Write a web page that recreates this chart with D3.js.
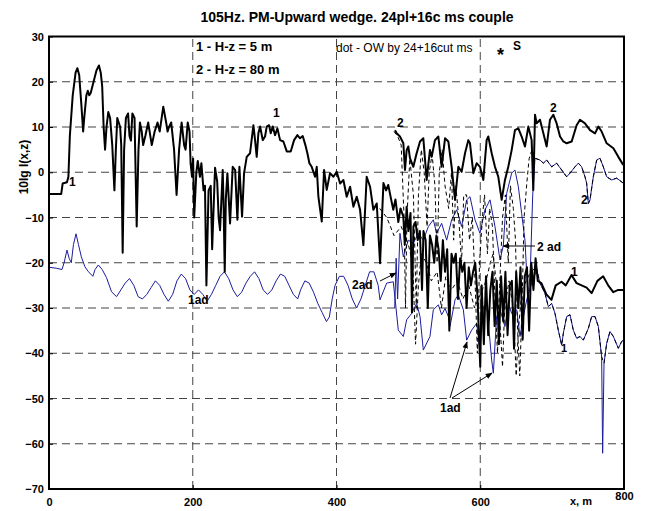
<!DOCTYPE html>
<html><head><meta charset="utf-8">
<script src="https://cdn.jsdelivr.net/npm/d3@7"></script>
<style>
body{margin:0;background:#fff;}
text{font-family:"Liberation Sans",Arial,sans-serif;}
</style></head>
<body><svg id="c" width="645" height="511"></svg>
<script>
const xTicks=[0,200,400,600,800];
const yTicks=[-70,-60,-50,-40,-30,-20,-10,0,10,20,30];

// curve 1 : H-z = 5 m (thick black)
const curve1=[[0,-4.8],[17,-4.8],[19,-2.5],[25,-2.2],[27,-1],[29,8],[33,17],[37,22],[39.5,23],[42,21.5],[45,15],[47.5,9],[49,12],[52,17],[54,18],[56,17],[58,17.5],[62,20],[66,22.5],[69.5,23.6],[72,22],[74,19],[76,10],[78,5],[80,10],[82.5,13.3],[85,12],[88,6],[91,-4],[93,5],[95,12],[97,11],[99,10],[100.5,6],[102.5,-17.8],[104.5,5],[107,12],[110,13],[112,8],[114,7],[116,13],[119,12],[122,-12],[124.5,5],[126.5,11],[129,9],[131,6],[134,8],[138,11],[141,8],[143,6],[147,9],[151,11],[154,9],[159,14.5],[163,11],[165,9],[167,10],[170,11],[174,5],[177.5,-5],[181,5],[184.5,11],[188,6],[190,5],[193,11],[195.5,9],[197,2],[199,-1],[200.5,3],[202,-10],[205,0],[207,2.5],[210,-1],[212,2],[215,-4],[217,-3],[219,-25],[222,-4],[225,-3],[227,-17],[231,1],[234,-2],[236,-10],[238,-12.8],[241.7,0.5],[243,-8],[244.5,-22],[246,-6],[248.2,-0.2],[251.9,-11.3],[255.6,1.2],[259,0.5],[262.1,-10.5],[264.9,1.2],[268.6,-9.8],[271.4,-0.2],[275.1,3.4],[279.7,4.2],[284.4,10.4],[286.7,7.1],[289,3.4],[291.3,8.6],[293.7,10.1],[297.4,7.1],[300.6,7.9],[302.9,10.1],[306.2,10.4],[308.5,8.6],[311.3,10.1],[314.5,8.2],[317.8,9.7],[321.5,7.1],[326.1,6.8],[330.8,4.6],[336.3,4.6],[341,7.1],[345.6,8.2],[349.3,7.5],[353,8],[356.7,6],[359.5,4.2],[362.3,2],[365.5,1.2],[370.2,-1],[372.5,1.2],[374.8,-5.4],[379.5,-10.9],[382.7,0.5],[386.4,-3.9],[391,-0.2],[395.7,-1],[400.3,0.1],[405,-2.5],[409.6,-1.7],[414.2,-5.4],[418.9,-3.2],[423.5,-7.6],[428.2,-5.4],[432.8,-8.3],[437.4,-16.1],[442,-1],[446.7,-3.2],[451.3,-8.3],[456,-6.9],[460.6,-20.1],[465.3,-2.4],[469,-4],[472,-2.8],[476,-6],[479,-8.3],[482,-6],[486,-11],[489,-8],[493,-9.8],[495,-16],[497.6,-7.6],[500,-13],[503,-9],[505,-31],[507,-12],[510,-11],[513,-15],[516,-13],[519,-26],[521,-13],[524,-15],[527,-30],[530,-14],[533,-16],[536,-20],[539,-14],[542,-17],[545,-24],[548,-15],[551,-22],[554,-17],[557,-35],[560,-18],[563,-20],[566,-18],[569,-28],[572,-19],[575,-22],[578,-20],[581,-30],[584,-21],[587,-25],[590,-22],[593,-20],[596,-27],[598,-35],[600,-43],[602,-25],[605,-38],[608,-23],[611,-36],[614,-26],[617,-22],[620,-34],[623,-24],[626,-38],[629,-23],[632,-33],[635,-22],[638,-36],[641,-25],[644,-24],[647,-39],[650,-22],[653,-30],[656,-21],[659,-37],[662,-23],[665,-21],[668,-35],[671,-20],[674,-26],[677,-19],[680,-24],[685,-24.5],[692,-27],[699,-28.2],[705,-25],[713,-24.2],[719,-25],[727,-22.7],[734,-24.5],[741,-25],[748,-25.5],[755,-26.7],[763,-24],[771,-23],[778,-25],[785,-26.5],[792,-26],[800,-26]];

// curve 2 : H-z = 80 m (thick black)
const curve2=[[481.4,9.3],[483.7,8.6],[488.3,7.9],[493,6.4],[495.3,0.5],[497.6,4.9],[499.9,5.7],[502.2,3.1],[506.9,1.2],[511.5,4.2],[516.2,6.8],[520.8,7.5],[525.4,-1.7],[530,4.9],[532.4,3.4],[537,7.1],[541.7,7.9],[546.3,1.2],[551,7.5],[555.6,6.8],[560.2,1.2],[564.9,-6.1],[569.5,1.2],[574.1,0.1],[578.8,4.2],[583.4,7.1],[585.7,6.4],[590.4,-0.2],[595,2],[599.6,1.2],[604.3,-1.7],[608.9,7.1],[611.2,7.9],[615.9,4.2],[620.5,1.2],[625.1,-1],[629.8,-6.1],[634.4,-1.7],[639,1.2],[643.7,4.9],[648.3,9.3],[653,9.7],[657.6,7.9],[662.2,5.7],[666.9,10.1],[671.5,7.1],[673.8,-3.9],[676.2,12.7],[678.5,10.8],[683.1,11.6],[687.8,8.6],[692.4,5.7],[697,11.6],[701.7,12.7],[706.3,10.8],[711,7.9],[715.6,6.8],[720.2,6.4],[727.2,6.8],[734.1,10.4],[738.8,11.6],[745.7,10.8],[752.7,9.3],[759.7,8.6],[764.3,10.1],[768.9,9],[775.9,6.4],[785.2,5.3],[792.1,3.4],[799,1.6]];

// OW curves (thin dashed black)
const ow1=[[460,-8],[470,-10],[480,-14],[490,-12],[500,-16],[506,-20],[510,-38],[514,-25],[518,-18],[525,-20],[532,-24],[540,-22],[546,-30],[552,-23],[560,-26],[568,-24],[576,-28],[584,-25],[592,-30],[600,-27],[608,-24],[614,-20],[618,-18],[622,-24],[628,-35],[631,-43],[634,-30],[640,-24],[646,-30],[650,-45],[653,-35],[658,-26],[664,-24],[670,-22],[678,-21],[683.1,-24.5],[690.1,-26.8],[694.7,-29.7],[699.4,-29],[704,-31.2],[708.6,-34.9],[713.3,-38.2],[715.6,-35.6],[720.2,-31.9],[724.9,-31.5],[729.5,-34.9],[734.1,-36.7],[738.8,-36.3],[743.4,-37.1],[750.4,-34.5],[755,-31.9],[759.7,-31.9],[764.3,-34.1],[768.9,-40.8],[772.2,-42.2],[775.9,-37.8],[780.5,-35.2],[785.2,-36.3],[792.1,-38.9],[796.8,-37.4],[800,-37]];
const ow2=[[480,9],[485,8],[490,6],[494,-10],[496,-30],[498,-10],[502,3],[507,-5],[511,-30],[514,-5],[518,5],[522,0],[526,-12],[529,0],[533,4],[537,-3],[540,-20],[543,0],[547,5],[551,-3],[556,-8],[560,0],[563,-15],[566,-3],[570,-10],[574,-20],[577,-5],[581,-5],[585,-15],[589,-10],[593,-25],[596,-40],[599,-20],[603,-10],[606,-5],[610,-18],[613,-8],[617,-12],[621,-30],[624,-40],[627,-25],[631,-10],[635,-5],[639,-20],[642,-3],[646,-8],[649,-15],[652,-35],[655,-45],[658,-30],[661,-10],[665,-2],[668,3],[672,5],[676.2,3.1],[683.1,2.7],[687.8,2],[692.4,2.7],[699.4,1.2],[706.3,2],[713.3,0.5],[720.2,-1],[724.9,-0.2],[731.8,1.2],[736.5,2],[741.1,1.2],[745.7,-1],[748,-2.4],[750.4,-6.9],[752.7,-6.1],[757.3,-1],[762,2.7],[766.6,3.1],[771.2,1.2],[775.9,-1],[782.8,-1.7],[789.8,-1.3],[799,-2.4]];

// adiabatic curves (thin blue)
const ad1=[[0,-21],[10,-21.2],[18,-21.5],[21,-20],[25,-17.2],[28,-19],[31,-20],[34,-16],[37.6,-13.6],[41,-16],[45,-18.7],[50,-20.9],[55,-22],[61,-23],[64,-21.5],[68.6,-20.5],[74,-21.5],[80,-23.3],[87,-26.4],[94,-27.5],[100,-26],[106,-24.5],[112,-23.5],[118,-25],[124,-27.5],[130,-28],[136,-27],[142,-25.5],[148,-24],[154,-25],[160,-27],[166,-28.5],[172,-27],[178,-24],[184,-22.5],[190,-23.5],[196,-26],[202,-27],[208,-26],[214,-27],[220,-28.5],[226,-27],[232,-25],[238,-23],[244,-22],[250,-23.5],[256,-26],[262,-27.5],[268,-26.5],[274,-24.5],[280,-23],[286,-22],[292,-23.5],[298,-26],[304,-27],[310,-26],[316,-24],[322,-22.5],[328,-23],[334,-25],[340,-27],[346,-28],[350,-26],[356,-24],[362,-24.5],[368,-26.5],[374,-29],[380,-31],[386,-33],[390,-32],[394,-28],[398,-25],[404,-23],[410,-23],[416,-25],[422,-28],[428,-30],[434,-28],[440,-25],[446,-22],[452,-22],[458,-25],[460.5,-28.2],[469.8,-24.5],[479,-24.2],[486,-34.9],[493,-36.3],[497.6,-32.6],[504.6,-31.2],[511.5,-29],[516.2,-31.9],[520.8,-39.3],[530,-36.3],[534.7,-30.4],[541.7,-29.3],[546.3,-31.5],[551,-30.1],[555.6,-31.9],[557.9,-34.1],[564.9,-28.2],[569.5,-27.1],[576.5,-30.4],[581.1,-37.1],[588,-34.9],[595,-33.4],[599.6,-39.3],[604.3,-29.7],[608.9,-29],[615.9,-41.5],[618.2,-44.4],[622.8,-31.9],[627.5,-30.4],[634.4,-34.1],[639,-29],[643.7,-31.2],[650.7,-30.4],[655.3,-36.3],[660,-31.9],[664.6,-28.2],[671.5,-24.5],[678.5,-21.6],[683.1,-24.5],[690.1,-26.8],[694.7,-29.7],[699.4,-29],[704,-31.2],[708.6,-34.9],[713.3,-38.2],[715.6,-35.6],[720.2,-31.9],[724.9,-31.5],[729.5,-34.9],[734.1,-36.7],[738.8,-36.3],[743.4,-37.1],[750.4,-34.5],[755,-31.9],[759.7,-31.9],[764.3,-34.1],[768.9,-40.8],[770.3,-62.1],[772.2,-42.2],[775.9,-37.8],[780.5,-35.2],[785.2,-36.3],[792.1,-38.9],[796.8,-37.4],[800,-37]];
const ad2=[[481,-30],[483,-19],[485,-28],[488.3,-13.5],[493,-18.7],[499.9,-15],[506.9,-15.7],[513.8,-13.5],[520.8,-15],[527.8,-12],[534.7,-10.5],[539.3,-13.5],[546.3,-11.3],[553.3,-15],[560.2,-10.5],[567.2,-8.3],[574.1,-12],[581.1,-6.1],[585.7,-5.4],[592.7,-10.5],[599.6,-13.5],[606.6,-8.3],[613.6,-6.1],[620.5,-12],[627.5,-19.4],[632.1,-16.2],[636.7,-4.7],[643.7,-0.2],[648.3,0.5],[653,-3.2],[657.6,-9.1],[662.2,-15],[664.6,-22.3],[667,-28],[670,-20],[673,-5],[676.2,3.1],[683.1,2.7],[687.8,2],[692.4,2.7],[699.4,1.2],[706.3,2],[713.3,0.5],[720.2,-1],[724.9,-0.2],[731.8,1.2],[736.5,2],[741.1,1.2],[745.7,-1],[748,-2.4],[750.4,-6.9],[752.7,-6.1],[757.3,-1],[762,2.7],[766.6,3.1],[771.2,1.2],[775.9,-1],[782.8,-1.7],[789.8,-1.3],[799,-2.4]];

const svg=d3.select("#c");
const x=d3.scaleLinear().domain([0,800]).range([49,624]);
const y=d3.scaleLinear().domain([-70,30]).range([489,36.5]);

// grid
const g=svg.append("g");
g.selectAll("line.h").data(yTicks.filter(v=>v>-70&&v<30)).join("line")
 .attr("x1",x(0)).attr("x2",x(800)).attr("y1",d=>y(d)).attr("y2",d=>y(d))
 .attr("stroke","#444").attr("stroke-width",1).attr("stroke-dasharray","8,5");
g.selectAll("line.v").data(xTicks.filter(v=>v>0&&v<800)).join("line")
 .attr("y1",y(-70)).attr("y2",y(30)).attr("x1",d=>x(d)).attr("x2",d=>x(d))
 .attr("stroke","#444").attr("stroke-width",1).attr("stroke-dasharray","8,5");

const line=d3.line().x(d=>x(d[0])).y(d=>y(d[1]));
svg.append("defs").append("clipPath").attr("id","cp").append("rect")
 .attr("x",x(0)).attr("y",y(30)).attr("width",x(800)-x(0)).attr("height",y(-70)-y(30));
const pg=svg.append("g").attr("clip-path","url(#cp)");
pg.append("path").attr("d",line(ad1)).attr("fill","none").attr("stroke","#1c1c9c").attr("stroke-width",1);
pg.append("path").attr("d",line(ad2)).attr("fill","none").attr("stroke","#1c1c9c").attr("stroke-width",1);
pg.append("path").attr("d",line(ow1)).attr("fill","none").attr("stroke","#000").attr("stroke-width",1).attr("stroke-dasharray","4,3");
pg.append("path").attr("d",line(ow2)).attr("fill","none").attr("stroke","#000").attr("stroke-width",1).attr("stroke-dasharray","4,3");
pg.append("path").attr("d",line(curve1)).attr("fill","none").attr("stroke","#000").attr("stroke-width",2).attr("stroke-linejoin","round");
pg.append("path").attr("d",line(curve2)).attr("fill","none").attr("stroke","#000").attr("stroke-width",2).attr("stroke-linejoin","round");

// axes
const ax=svg.append("g").attr("transform",`translate(0,${y(-70)})`)
 .call(d3.axisBottom(x).tickValues(xTicks).tickSize(-4).tickPadding(9).tickFormat(d3.format("d")));
const ay=svg.append("g").attr("transform",`translate(${x(0)},0)`)
 .call(d3.axisLeft(y).tickValues(yTicks).tickSize(-4).tickPadding(5).tickFormat(d3.format("d")));
[ax,ay].forEach(a=>{a.select(".domain").remove();a.selectAll("text").attr("font-size",11).attr("font-weight","bold").attr("fill","#000").attr("font-family","Liberation Sans, Arial, sans-serif");a.selectAll("line").attr("stroke","#000");});
ax.selectAll(".tick").filter(d=>d===800).select("text").attr("dy","0.2em");
svg.append("rect").attr("x",x(0)).attr("y",y(30)).attr("width",x(800)-x(0)).attr("height",y(-70)-y(30))
 .attr("fill","none").attr("stroke","#000").attr("stroke-width",2);

// texts
function t(xp,yp,s,o={}){const e=svg.append("text").attr("x",xp).attr("y",yp).text(s)
 .attr("font-size",o.fs||12).attr("font-weight",o.w||"bold").attr("text-anchor",o.a||"start").attr("fill","#000");
 if(o.r)e.attr("transform",`rotate(-90,${xp},${yp})`);return e;}
t(357,22,"105Hz. PM-Upward wedge. 24pl+16c ms couple",{fs:14,a:"middle"});
t(28,167,"10lg I(x,z)",{fs:12,a:"middle",r:1});
t(581,505,"x, m",{fs:11,a:"middle"});
t(196,51,"1 - H-z = 5 m",{fs:13});
t(196,74,"2 - H-z = 80 m",{fs:13});
t(336,52,"dot - OW by 24+16cut ms",{w:"normal",fs:12});
t(497,61,"*",{fs:18});
t(513,50,"S",{fs:12});
t(69,186,"1");
t(273,117,"1");
t(397,127,"2");
t(550,112,"2");
t(581,204,"2");
t(571,276,"1");
t(561,352,"1",{fs:11});
t(537,251,"2 ad");
t(352,289,"2ad");
t(440,412,"1ad");
t(188,304,"1ad");
// arrows
const defs=svg.select("defs");
defs.append("marker").attr("id","ah").attr("viewBox","0 0 10 10").attr("refX",9).attr("refY",5)
 .attr("markerWidth",7).attr("markerHeight",7).attr("orient","auto").append("path").attr("d","M0,1L10,5L0,9z").attr("fill","#000");
function arr(x1,y1,x2,y2){svg.append("line").attr("x1",x1).attr("y1",y1).attr("x2",x2).attr("y2",y2).attr("stroke","#000").attr("stroke-width",1).attr("marker-end","url(#ah)");}
arr(535,246,503,246);
arr(380,281,396,273);
arr(450,398,467,342);
arr(452,398,492,373);
</script></body></html>
